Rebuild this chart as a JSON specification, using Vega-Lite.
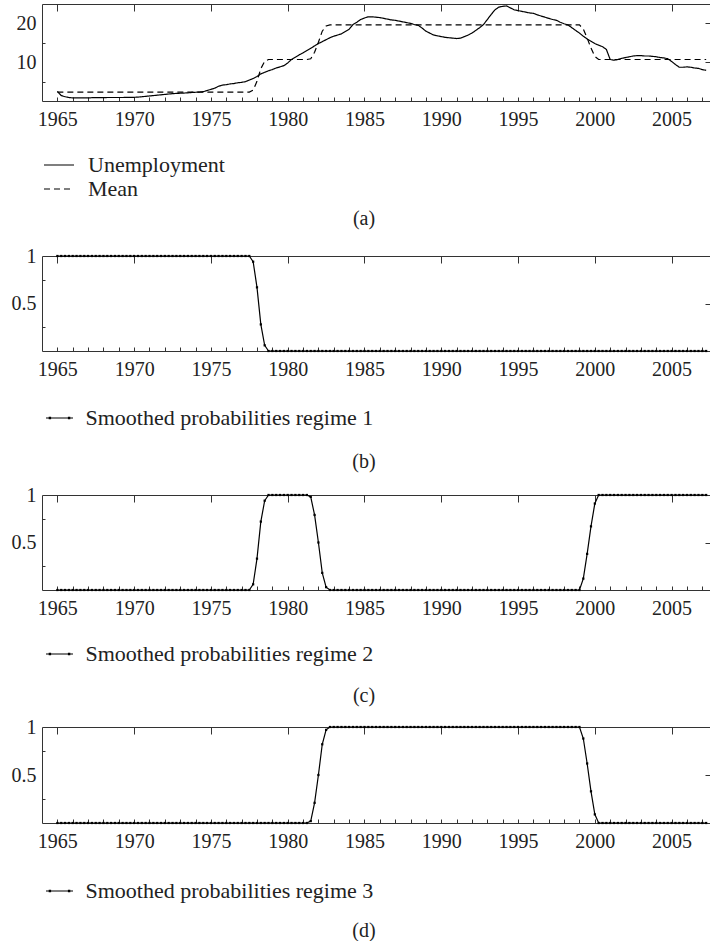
{
"$schema":"https://vega.github.io/schema/vega-lite/v6.json",
"padding":{"left":11,"top":3,"right":0,"bottom":0},
"background":"white",
"spacing":17,
"resolve":{"scale":{"color":"independent","strokeDash":"independent"},"legend":{"color":"independent","strokeDash":"independent"}},
"datasets":{"d":[
{"t":1965,"u":2.5,"m":2.3,"p1":1,"p2":0,"p3":0},
{"t":1965.25,"u":1.4,"m":2.3,"p1":1,"p2":0,"p3":0},
{"t":1965.5,"u":1.1,"m":2.3,"p1":1,"p2":0,"p3":0},
{"t":1965.75,"u":0.9,"m":2.3,"p1":1,"p2":0,"p3":0},
{"t":1966,"u":0.8,"m":2.3,"p1":1,"p2":0,"p3":0},
{"t":1966.25,"u":0.8,"m":2.3,"p1":1,"p2":0,"p3":0},
{"t":1966.5,"u":0.8,"m":2.3,"p1":1,"p2":0,"p3":0},
{"t":1966.75,"u":0.8,"m":2.3,"p1":1,"p2":0,"p3":0},
{"t":1967,"u":0.8,"m":2.3,"p1":1,"p2":0,"p3":0},
{"t":1967.25,"u":0.85,"m":2.3,"p1":1,"p2":0,"p3":0},
{"t":1967.5,"u":0.85,"m":2.3,"p1":1,"p2":0,"p3":0},
{"t":1967.75,"u":0.85,"m":2.3,"p1":1,"p2":0,"p3":0},
{"t":1968,"u":0.85,"m":2.3,"p1":1,"p2":0,"p3":0},
{"t":1968.25,"u":0.9,"m":2.3,"p1":1,"p2":0,"p3":0},
{"t":1968.5,"u":0.9,"m":2.3,"p1":1,"p2":0,"p3":0},
{"t":1968.75,"u":0.9,"m":2.3,"p1":1,"p2":0,"p3":0},
{"t":1969,"u":0.9,"m":2.3,"p1":1,"p2":0,"p3":0},
{"t":1969.25,"u":0.9,"m":2.3,"p1":1,"p2":0,"p3":0},
{"t":1969.5,"u":0.95,"m":2.3,"p1":1,"p2":0,"p3":0},
{"t":1969.75,"u":0.95,"m":2.3,"p1":1,"p2":0,"p3":0},
{"t":1970,"u":0.95,"m":2.3,"p1":1,"p2":0,"p3":0},
{"t":1970.25,"u":1.0,"m":2.3,"p1":1,"p2":0,"p3":0},
{"t":1970.5,"u":1.1,"m":2.3,"p1":1,"p2":0,"p3":0},
{"t":1970.75,"u":1.2,"m":2.3,"p1":1,"p2":0,"p3":0},
{"t":1971,"u":1.3,"m":2.3,"p1":1,"p2":0,"p3":0},
{"t":1971.25,"u":1.4,"m":2.3,"p1":1,"p2":0,"p3":0},
{"t":1971.5,"u":1.5,"m":2.3,"p1":1,"p2":0,"p3":0},
{"t":1971.75,"u":1.6,"m":2.3,"p1":1,"p2":0,"p3":0},
{"t":1972,"u":1.7,"m":2.3,"p1":1,"p2":0,"p3":0},
{"t":1972.25,"u":1.8,"m":2.3,"p1":1,"p2":0,"p3":0},
{"t":1972.5,"u":1.9,"m":2.3,"p1":1,"p2":0,"p3":0},
{"t":1972.75,"u":1.95,"m":2.3,"p1":1,"p2":0,"p3":0},
{"t":1973,"u":2.0,"m":2.3,"p1":1,"p2":0,"p3":0},
{"t":1973.25,"u":2.05,"m":2.3,"p1":1,"p2":0,"p3":0},
{"t":1973.5,"u":2.1,"m":2.3,"p1":1,"p2":0,"p3":0},
{"t":1973.75,"u":2.2,"m":2.3,"p1":1,"p2":0,"p3":0},
{"t":1974,"u":2.25,"m":2.3,"p1":1,"p2":0,"p3":0},
{"t":1974.25,"u":2.3,"m":2.3,"p1":1,"p2":0,"p3":0},
{"t":1974.5,"u":2.4,"m":2.3,"p1":1,"p2":0,"p3":0},
{"t":1974.75,"u":2.7,"m":2.3,"p1":1,"p2":0,"p3":0},
{"t":1975,"u":3.0,"m":2.3,"p1":1,"p2":0,"p3":0},
{"t":1975.25,"u":3.3,"m":2.3,"p1":1,"p2":0,"p3":0},
{"t":1975.5,"u":3.8,"m":2.3,"p1":1,"p2":0,"p3":0},
{"t":1975.75,"u":4.1,"m":2.3,"p1":1,"p2":0,"p3":0},
{"t":1976,"u":4.2,"m":2.3,"p1":1,"p2":0,"p3":0},
{"t":1976.25,"u":4.4,"m":2.3,"p1":1,"p2":0,"p3":0},
{"t":1976.5,"u":4.5,"m":2.3,"p1":1,"p2":0,"p3":0},
{"t":1976.75,"u":4.7,"m":2.3,"p1":1,"p2":0,"p3":0},
{"t":1977,"u":4.8,"m":2.3,"p1":1,"p2":0,"p3":0},
{"t":1977.25,"u":5.0,"m":2.3,"p1":1,"p2":0,"p3":0},
{"t":1977.5,"u":5.4,"m":2.3,"p1":1,"p2":0,"p3":0},
{"t":1977.75,"u":5.8,"m":2.8,"p1":0.94,"p2":0.06,"p3":0},
{"t":1978,"u":6.3,"m":5.07,"p1":0.67,"p2":0.33,"p3":0},
{"t":1978.25,"u":7.0,"m":8.35,"p1":0.28,"p2":0.72,"p3":0},
{"t":1978.5,"u":7.4,"m":10.2,"p1":0.06,"p2":0.94,"p3":0},
{"t":1978.75,"u":7.8,"m":10.7,"p1":0,"p2":1,"p3":0},
{"t":1979,"u":8.1,"m":10.7,"p1":0,"p2":1,"p3":0},
{"t":1979.25,"u":8.5,"m":10.7,"p1":0,"p2":1,"p3":0},
{"t":1979.5,"u":8.8,"m":10.7,"p1":0,"p2":1,"p3":0},
{"t":1979.75,"u":9.1,"m":10.7,"p1":0,"p2":1,"p3":0},
{"t":1980,"u":9.8,"m":10.7,"p1":0,"p2":1,"p3":0},
{"t":1980.25,"u":10.7,"m":10.7,"p1":0,"p2":1,"p3":0},
{"t":1980.5,"u":11.3,"m":10.7,"p1":0,"p2":1,"p3":0},
{"t":1980.75,"u":11.9,"m":10.7,"p1":0,"p2":1,"p3":0},
{"t":1981,"u":12.4,"m":10.7,"p1":0,"p2":1,"p3":0},
{"t":1981.25,"u":13.0,"m":10.7,"p1":0,"p2":1,"p3":0},
{"t":1981.5,"u":13.6,"m":10.88,"p1":0,"p2":0.98,"p3":0.02},
{"t":1981.75,"u":14.2,"m":12.57,"p1":0,"p2":0.79,"p3":0.21},
{"t":1982,"u":14.8,"m":15.15,"p1":0,"p2":0.5,"p3":0.5},
{"t":1982.25,"u":15.3,"m":18.0,"p1":0,"p2":0.18,"p3":0.82},
{"t":1982.5,"u":15.8,"m":19.33,"p1":0,"p2":0.03,"p3":0.97},
{"t":1982.75,"u":16.3,"m":19.6,"p1":0,"p2":0,"p3":1},
{"t":1983,"u":16.7,"m":19.6,"p1":0,"p2":0,"p3":1},
{"t":1983.25,"u":17.0,"m":19.6,"p1":0,"p2":0,"p3":1},
{"t":1983.5,"u":17.3,"m":19.6,"p1":0,"p2":0,"p3":1},
{"t":1983.75,"u":17.9,"m":19.6,"p1":0,"p2":0,"p3":1},
{"t":1984,"u":18.5,"m":19.6,"p1":0,"p2":0,"p3":1},
{"t":1984.25,"u":19.7,"m":19.6,"p1":0,"p2":0,"p3":1},
{"t":1984.5,"u":20.3,"m":19.6,"p1":0,"p2":0,"p3":1},
{"t":1984.75,"u":21.0,"m":19.6,"p1":0,"p2":0,"p3":1},
{"t":1985,"u":21.4,"m":19.6,"p1":0,"p2":0,"p3":1},
{"t":1985.25,"u":21.7,"m":19.6,"p1":0,"p2":0,"p3":1},
{"t":1985.5,"u":21.7,"m":19.6,"p1":0,"p2":0,"p3":1},
{"t":1985.75,"u":21.6,"m":19.6,"p1":0,"p2":0,"p3":1},
{"t":1986,"u":21.5,"m":19.6,"p1":0,"p2":0,"p3":1},
{"t":1986.25,"u":21.3,"m":19.6,"p1":0,"p2":0,"p3":1},
{"t":1986.5,"u":21.1,"m":19.6,"p1":0,"p2":0,"p3":1},
{"t":1986.75,"u":20.9,"m":19.6,"p1":0,"p2":0,"p3":1},
{"t":1987,"u":20.8,"m":19.6,"p1":0,"p2":0,"p3":1},
{"t":1987.25,"u":20.6,"m":19.6,"p1":0,"p2":0,"p3":1},
{"t":1987.5,"u":20.4,"m":19.6,"p1":0,"p2":0,"p3":1},
{"t":1987.75,"u":20.2,"m":19.6,"p1":0,"p2":0,"p3":1},
{"t":1988,"u":20.0,"m":19.6,"p1":0,"p2":0,"p3":1},
{"t":1988.25,"u":19.7,"m":19.6,"p1":0,"p2":0,"p3":1},
{"t":1988.5,"u":19.5,"m":19.6,"p1":0,"p2":0,"p3":1},
{"t":1988.75,"u":18.8,"m":19.6,"p1":0,"p2":0,"p3":1},
{"t":1989,"u":18.0,"m":19.6,"p1":0,"p2":0,"p3":1},
{"t":1989.25,"u":17.5,"m":19.6,"p1":0,"p2":0,"p3":1},
{"t":1989.5,"u":17.0,"m":19.6,"p1":0,"p2":0,"p3":1},
{"t":1989.75,"u":16.8,"m":19.6,"p1":0,"p2":0,"p3":1},
{"t":1990,"u":16.6,"m":19.6,"p1":0,"p2":0,"p3":1},
{"t":1990.25,"u":16.4,"m":19.6,"p1":0,"p2":0,"p3":1},
{"t":1990.5,"u":16.3,"m":19.6,"p1":0,"p2":0,"p3":1},
{"t":1990.75,"u":16.2,"m":19.6,"p1":0,"p2":0,"p3":1},
{"t":1991,"u":16.1,"m":19.6,"p1":0,"p2":0,"p3":1},
{"t":1991.25,"u":16.2,"m":19.6,"p1":0,"p2":0,"p3":1},
{"t":1991.5,"u":16.6,"m":19.6,"p1":0,"p2":0,"p3":1},
{"t":1991.75,"u":17.0,"m":19.6,"p1":0,"p2":0,"p3":1},
{"t":1992,"u":17.5,"m":19.6,"p1":0,"p2":0,"p3":1},
{"t":1992.25,"u":18.2,"m":19.6,"p1":0,"p2":0,"p3":1},
{"t":1992.5,"u":18.9,"m":19.6,"p1":0,"p2":0,"p3":1},
{"t":1992.75,"u":19.7,"m":19.6,"p1":0,"p2":0,"p3":1},
{"t":1993,"u":21.0,"m":19.6,"p1":0,"p2":0,"p3":1},
{"t":1993.25,"u":22.3,"m":19.6,"p1":0,"p2":0,"p3":1},
{"t":1993.5,"u":23.5,"m":19.6,"p1":0,"p2":0,"p3":1},
{"t":1993.75,"u":24.2,"m":19.6,"p1":0,"p2":0,"p3":1},
{"t":1994,"u":24.4,"m":19.6,"p1":0,"p2":0,"p3":1},
{"t":1994.25,"u":24.5,"m":19.6,"p1":0,"p2":0,"p3":1},
{"t":1994.5,"u":24.0,"m":19.6,"p1":0,"p2":0,"p3":1},
{"t":1994.75,"u":23.5,"m":19.6,"p1":0,"p2":0,"p3":1},
{"t":1995,"u":23.3,"m":19.6,"p1":0,"p2":0,"p3":1},
{"t":1995.25,"u":23.1,"m":19.6,"p1":0,"p2":0,"p3":1},
{"t":1995.5,"u":22.9,"m":19.6,"p1":0,"p2":0,"p3":1},
{"t":1995.75,"u":22.7,"m":19.6,"p1":0,"p2":0,"p3":1},
{"t":1996,"u":22.6,"m":19.6,"p1":0,"p2":0,"p3":1},
{"t":1996.25,"u":22.2,"m":19.6,"p1":0,"p2":0,"p3":1},
{"t":1996.5,"u":21.9,"m":19.6,"p1":0,"p2":0,"p3":1},
{"t":1996.75,"u":21.6,"m":19.6,"p1":0,"p2":0,"p3":1},
{"t":1997,"u":21.3,"m":19.6,"p1":0,"p2":0,"p3":1},
{"t":1997.25,"u":21.0,"m":19.6,"p1":0,"p2":0,"p3":1},
{"t":1997.5,"u":20.8,"m":19.6,"p1":0,"p2":0,"p3":1},
{"t":1997.75,"u":20.3,"m":19.6,"p1":0,"p2":0,"p3":1},
{"t":1998,"u":19.9,"m":19.6,"p1":0,"p2":0,"p3":1},
{"t":1998.25,"u":19.6,"m":19.6,"p1":0,"p2":0,"p3":1},
{"t":1998.5,"u":18.9,"m":19.6,"p1":0,"p2":0,"p3":1},
{"t":1998.75,"u":18.2,"m":19.6,"p1":0,"p2":0,"p3":1},
{"t":1999,"u":17.5,"m":19.6,"p1":0,"p2":0,"p3":1},
{"t":1999.25,"u":16.7,"m":18.53,"p1":0,"p2":0.12,"p3":0.88},
{"t":1999.5,"u":16.0,"m":16.22,"p1":0,"p2":0.38,"p3":0.62},
{"t":1999.75,"u":15.4,"m":13.64,"p1":0,"p2":0.67,"p3":0.33},
{"t":2000,"u":14.8,"m":11.5,"p1":0,"p2":0.91,"p3":0.09},
{"t":2000.25,"u":14.4,"m":10.7,"p1":0,"p2":1,"p3":0},
{"t":2000.5,"u":14.0,"m":10.7,"p1":0,"p2":1,"p3":0},
{"t":2000.75,"u":13.3,"m":10.7,"p1":0,"p2":1,"p3":0},
{"t":2001,"u":10.7,"m":10.7,"p1":0,"p2":1,"p3":0},
{"t":2001.25,"u":10.5,"m":10.7,"p1":0,"p2":1,"p3":0},
{"t":2001.5,"u":10.7,"m":10.7,"p1":0,"p2":1,"p3":0},
{"t":2001.75,"u":11.0,"m":10.7,"p1":0,"p2":1,"p3":0},
{"t":2002,"u":11.2,"m":10.7,"p1":0,"p2":1,"p3":0},
{"t":2002.25,"u":11.4,"m":10.7,"p1":0,"p2":1,"p3":0},
{"t":2002.5,"u":11.6,"m":10.7,"p1":0,"p2":1,"p3":0},
{"t":2002.75,"u":11.7,"m":10.7,"p1":0,"p2":1,"p3":0},
{"t":2003,"u":11.7,"m":10.7,"p1":0,"p2":1,"p3":0},
{"t":2003.25,"u":11.6,"m":10.7,"p1":0,"p2":1,"p3":0},
{"t":2003.5,"u":11.6,"m":10.7,"p1":0,"p2":1,"p3":0},
{"t":2003.75,"u":11.5,"m":10.7,"p1":0,"p2":1,"p3":0},
{"t":2004,"u":11.4,"m":10.7,"p1":0,"p2":1,"p3":0},
{"t":2004.25,"u":11.2,"m":10.7,"p1":0,"p2":1,"p3":0},
{"t":2004.5,"u":11.1,"m":10.7,"p1":0,"p2":1,"p3":0},
{"t":2004.75,"u":10.9,"m":10.7,"p1":0,"p2":1,"p3":0},
{"t":2005,"u":10.2,"m":10.7,"p1":0,"p2":1,"p3":0},
{"t":2005.25,"u":9.4,"m":10.7,"p1":0,"p2":1,"p3":0},
{"t":2005.5,"u":8.7,"m":10.7,"p1":0,"p2":1,"p3":0},
{"t":2005.75,"u":8.7,"m":10.7,"p1":0,"p2":1,"p3":0},
{"t":2006,"u":8.8,"m":10.7,"p1":0,"p2":1,"p3":0},
{"t":2006.25,"u":8.7,"m":10.7,"p1":0,"p2":1,"p3":0},
{"t":2006.5,"u":8.5,"m":10.7,"p1":0,"p2":1,"p3":0},
{"t":2006.75,"u":8.4,"m":10.7,"p1":0,"p2":1,"p3":0},
{"t":2007,"u":8.1,"m":10.7,"p1":0,"p2":1,"p3":0},
{"t":2007.25,"u":7.9,"m":10.7,"p1":0,"p2":1,"p3":0}
]},
"data":{"name":"d"},
"config":{
 "font":"Liberation Serif",
 "view":{"stroke":null},
 "axis":{"labelFont":"Liberation Serif","labelFontSize":20,"labelColor":"#222","domainColor":"#333","tickColor":"#333","domainWidth":1,"tickWidth":1,"grid":false,"title":null,"labelFlush":false,"labelOverlap":false,"labelBound":false},
 "legend":{"labelFont":"Liberation Serif","labelFontSize":22,"labelColor":"#222","padding":0,"rowPadding":0,"title":null,"labelLimit":0},
 "title":{"font":"Liberation Serif","fontSize":20,"fontWeight":"normal","color":"#222"}
},
"vconcat":[
{
 "width":668,"height":97,
 "title":{"text":"(a)","orient":"bottom","anchor":"middle","offset":9,"dx":-12},
 "resolve":{"axis":{"x":"independent","y":"independent"}},
 "layer":[
  {"mark":{"type":"line","strokeWidth":1.2,"color":"black"},
   "encoding":{
    "x":{"field":"t","type":"quantitative","scale":{"domain":[1964,2007.5],"nice":false,"zero":false},"axis":{"values":[1965,1970,1975,1980,1985,1990,1995,2000,2005],"format":"d","ticks":false,"labelPadding":8}},
    "y":{"field":"u","type":"quantitative","scale":{"domain":[0,25],"nice":false},"axis":{"values":[10,20],"ticks":false,"labelPadding":6}},
    "strokeDash":{"datum":"Unemployment","type":"nominal","scale":{"domain":["Unemployment","Mean"],"range":[[1,0],[6,4]]},
      "legend":{"orient":"none","legendX":4,"legendY":148,"direction":"vertical","symbolType":"M-1.25,0H1.25","symbolSize":576,"symbolStrokeWidth":1.2,"symbolStrokeColor":"black","labelOffset":16}}
   }},
  {"mark":{"type":"line","strokeWidth":1.2,"color":"black"},
   "encoding":{
    "x":{"field":"t","type":"quantitative","axis":{"values":[1965,1970,1975,1980,1985,1990,1995,2000,2005],"labels":false,"domain":false,"tickSize":-7}},
    "y":{"field":"m","type":"quantitative","axis":{"values":[10,20],"labels":false,"domain":false,"tickSize":-5}},
    "strokeDash":{"datum":"Mean","type":"nominal"}
   }},
  {"mark":{"type":"line","opacity":0},
   "encoding":{
    "x":{"field":"t","type":"quantitative","axis":{"orient":"bottom","values":[1965,1966,1967,1968,1969,1970,1971,1972,1973,1974,1975,1976,1977,1978,1979,1980,1981,1982,1983,1984,1985,1986,1987,1988,1989,1990,1991,1992,1993,1994,1995,1996,1997,1998,1999,2000,2001,2002,2003,2004,2005,2006,2007],"labels":false,"domain":false,"tickSize":-4}},
    "y":{"field":"u","type":"quantitative","axis":{"orient":"left","values":[5,15],"labels":false,"domain":false,"tickSize":-3}}
   }},
  {"mark":{"type":"line","opacity":0},
   "encoding":{
    "x":{"field":"t","type":"quantitative","axis":{"orient":"top","labels":false,"ticks":false,"domain":true}},
    "y":{"field":"u","type":"quantitative","axis":null}
   }}
 ]
},
{
"spacing":13,
"resolve":{"scale":{"color":"independent"},"legend":{"color":"independent"}},
"vconcat":[
{
 "width":668,"height":95,
 "title":{"text":"(b)","orient":"bottom","anchor":"middle","offset":23,"dx":-12},
 "resolve":{"axis":{"x":"independent","y":"independent"}},
 "layer":[
  {"mark":{"type":"line","strokeWidth":1.2,"point":{"filled":true,"shape":"square","size":5}},
   "encoding":{
    "x":{"field":"t","type":"quantitative","scale":{"domain":[1964,2007.5],"nice":false,"zero":false},"axis":{"values":[1965,1970,1975,1980,1985,1990,1995,2000,2005],"format":"d","ticks":false,"labelPadding":8}},
    "y":{"field":"p1","type":"quantitative","scale":{"domain":[0,1],"nice":false},"axis":{"values":[0.5,1],"format":"~g","ticks":false,"labelPadding":6}},
    "color":{"datum":"Smoothed probabilities regime 1","type":"nominal","scale":{"range":["black"]},
      "legend":{"orient":"none","legendX":4.5,"legendY":149,"symbolType":"M-1.125,0H1.125M-0.85,-0.05h0.1v0.1h-0.1zM0.75,-0.05h0.1v0.1h-0.1z","symbolSize":576,"symbolStrokeWidth":1.2,"labelOffset":13,"encode":{"symbols":{"update":{"fill":{"value":"black"},"stroke":{"value":"black"}}}}}}
   }},
  {"mark":{"type":"line","opacity":0},
   "encoding":{
    "x":{"field":"t","type":"quantitative","axis":{"values":[1965,1970,1975,1980,1985,1990,1995,2000,2005],"labels":false,"domain":false,"tickSize":-7}},
    "y":{"field":"p1","type":"quantitative","axis":{"values":[0.5],"labels":false,"domain":false,"tickSize":-5}}
   }},
  {"mark":{"type":"line","opacity":0},
   "encoding":{
    "x":{"field":"t","type":"quantitative","axis":{"orient":"bottom","values":[1965,1966,1967,1968,1969,1970,1971,1972,1973,1974,1975,1976,1977,1978,1979,1980,1981,1982,1983,1984,1985,1986,1987,1988,1989,1990,1991,1992,1993,1994,1995,1996,1997,1998,1999,2000,2001,2002,2003,2004,2005,2006,2007],"labels":false,"domain":false,"tickSize":-4}},
    "y":{"field":"p1","type":"quantitative","axis":{"orient":"left","values":[0.25,0.75],"labels":false,"domain":false,"tickSize":-3}}
   }},
  {"mark":{"type":"line","opacity":0},
   "encoding":{
    "x":{"field":"t","type":"quantitative","axis":{"orient":"top","labels":false,"ticks":false,"domain":true}},
    "y":{"field":"p1","type":"quantitative","axis":null}
   }}
 ]
},
{
"spacing":11,
"resolve":{"scale":{"color":"independent"},"legend":{"color":"independent"}},
"vconcat":[
{
 "width":668,"height":95,
 "title":{"text":"(c)","orient":"bottom","anchor":"middle","offset":21,"dx":-12},
 "resolve":{"axis":{"x":"independent","y":"independent"}},
 "layer":[
  {"mark":{"type":"line","strokeWidth":1.2,"point":{"filled":true,"shape":"square","size":5}},
   "encoding":{
    "x":{"field":"t","type":"quantitative","scale":{"domain":[1964,2007.5],"nice":false,"zero":false},"axis":{"values":[1965,1970,1975,1980,1985,1990,1995,2000,2005],"format":"d","ticks":false,"labelPadding":8}},
    "y":{"field":"p2","type":"quantitative","scale":{"domain":[0,1],"nice":false},"axis":{"values":[0.5,1],"format":"~g","ticks":false,"labelPadding":6}},
    "color":{"datum":"Smoothed probabilities regime 2","type":"nominal","scale":{"range":["black"]},
      "legend":{"orient":"none","legendX":4.5,"legendY":146,"symbolType":"M-1.125,0H1.125M-0.85,-0.05h0.1v0.1h-0.1zM0.75,-0.05h0.1v0.1h-0.1z","symbolSize":576,"symbolStrokeWidth":1.2,"labelOffset":13,"encode":{"symbols":{"update":{"fill":{"value":"black"},"stroke":{"value":"black"}}}}}}
   }},
  {"mark":{"type":"line","opacity":0},
   "encoding":{
    "x":{"field":"t","type":"quantitative","axis":{"values":[1965,1970,1975,1980,1985,1990,1995,2000,2005],"labels":false,"domain":false,"tickSize":-7}},
    "y":{"field":"p2","type":"quantitative","axis":{"values":[0.5],"labels":false,"domain":false,"tickSize":-5}}
   }},
  {"mark":{"type":"line","opacity":0},
   "encoding":{
    "x":{"field":"t","type":"quantitative","axis":{"orient":"bottom","values":[1965,1966,1967,1968,1969,1970,1971,1972,1973,1974,1975,1976,1977,1978,1979,1980,1981,1982,1983,1984,1985,1986,1987,1988,1989,1990,1991,1992,1993,1994,1995,1996,1997,1998,1999,2000,2001,2002,2003,2004,2005,2006,2007],"labels":false,"domain":false,"tickSize":-4}},
    "y":{"field":"p2","type":"quantitative","axis":{"orient":"left","values":[0.25,0.75],"labels":false,"domain":false,"tickSize":-3}}
   }},
  {"mark":{"type":"line","opacity":0},
   "encoding":{
    "x":{"field":"t","type":"quantitative","axis":{"orient":"top","labels":false,"ticks":false,"domain":true}},
    "y":{"field":"p2","type":"quantitative","axis":null}
   }}
 ]
},
{
 "width":668,"height":96,
 "title":{"text":"(d)","orient":"bottom","anchor":"middle","offset":19,"dx":-12},
 "resolve":{"axis":{"x":"independent","y":"independent"}},
 "layer":[
  {"mark":{"type":"line","strokeWidth":1.2,"point":{"filled":true,"shape":"square","size":5}},
   "encoding":{
    "x":{"field":"t","type":"quantitative","scale":{"domain":[1964,2007.5],"nice":false,"zero":false},"axis":{"values":[1965,1970,1975,1980,1985,1990,1995,2000,2005],"format":"d","ticks":false,"labelPadding":8}},
    "y":{"field":"p3","type":"quantitative","scale":{"domain":[0,1],"nice":false},"axis":{"values":[0.5,1],"format":"~g","ticks":false,"labelPadding":6}},
    "color":{"datum":"Smoothed probabilities regime 3","type":"nominal","scale":{"range":["black"]},
      "legend":{"orient":"none","legendX":4.5,"legendY":151,"symbolType":"M-1.125,0H1.125M-0.85,-0.05h0.1v0.1h-0.1zM0.75,-0.05h0.1v0.1h-0.1z","symbolSize":576,"symbolStrokeWidth":1.2,"labelOffset":13,"encode":{"symbols":{"update":{"fill":{"value":"black"},"stroke":{"value":"black"}}}}}}
   }},
  {"mark":{"type":"line","opacity":0},
   "encoding":{
    "x":{"field":"t","type":"quantitative","axis":{"values":[1965,1970,1975,1980,1985,1990,1995,2000,2005],"labels":false,"domain":false,"tickSize":-7}},
    "y":{"field":"p3","type":"quantitative","axis":{"values":[0.5],"labels":false,"domain":false,"tickSize":-5}}
   }},
  {"mark":{"type":"line","opacity":0},
   "encoding":{
    "x":{"field":"t","type":"quantitative","axis":{"orient":"bottom","values":[1965,1966,1967,1968,1969,1970,1971,1972,1973,1974,1975,1976,1977,1978,1979,1980,1981,1982,1983,1984,1985,1986,1987,1988,1989,1990,1991,1992,1993,1994,1995,1996,1997,1998,1999,2000,2001,2002,2003,2004,2005,2006,2007],"labels":false,"domain":false,"tickSize":-4}},
    "y":{"field":"p3","type":"quantitative","axis":{"orient":"left","values":[0.25,0.75],"labels":false,"domain":false,"tickSize":-3}}
   }},
  {"mark":{"type":"line","opacity":0},
   "encoding":{
    "x":{"field":"t","type":"quantitative","axis":{"orient":"top","labels":false,"ticks":false,"domain":true}},
    "y":{"field":"p3","type":"quantitative","axis":null}
   }}
 ]
}
]
}
]
}
]
}
